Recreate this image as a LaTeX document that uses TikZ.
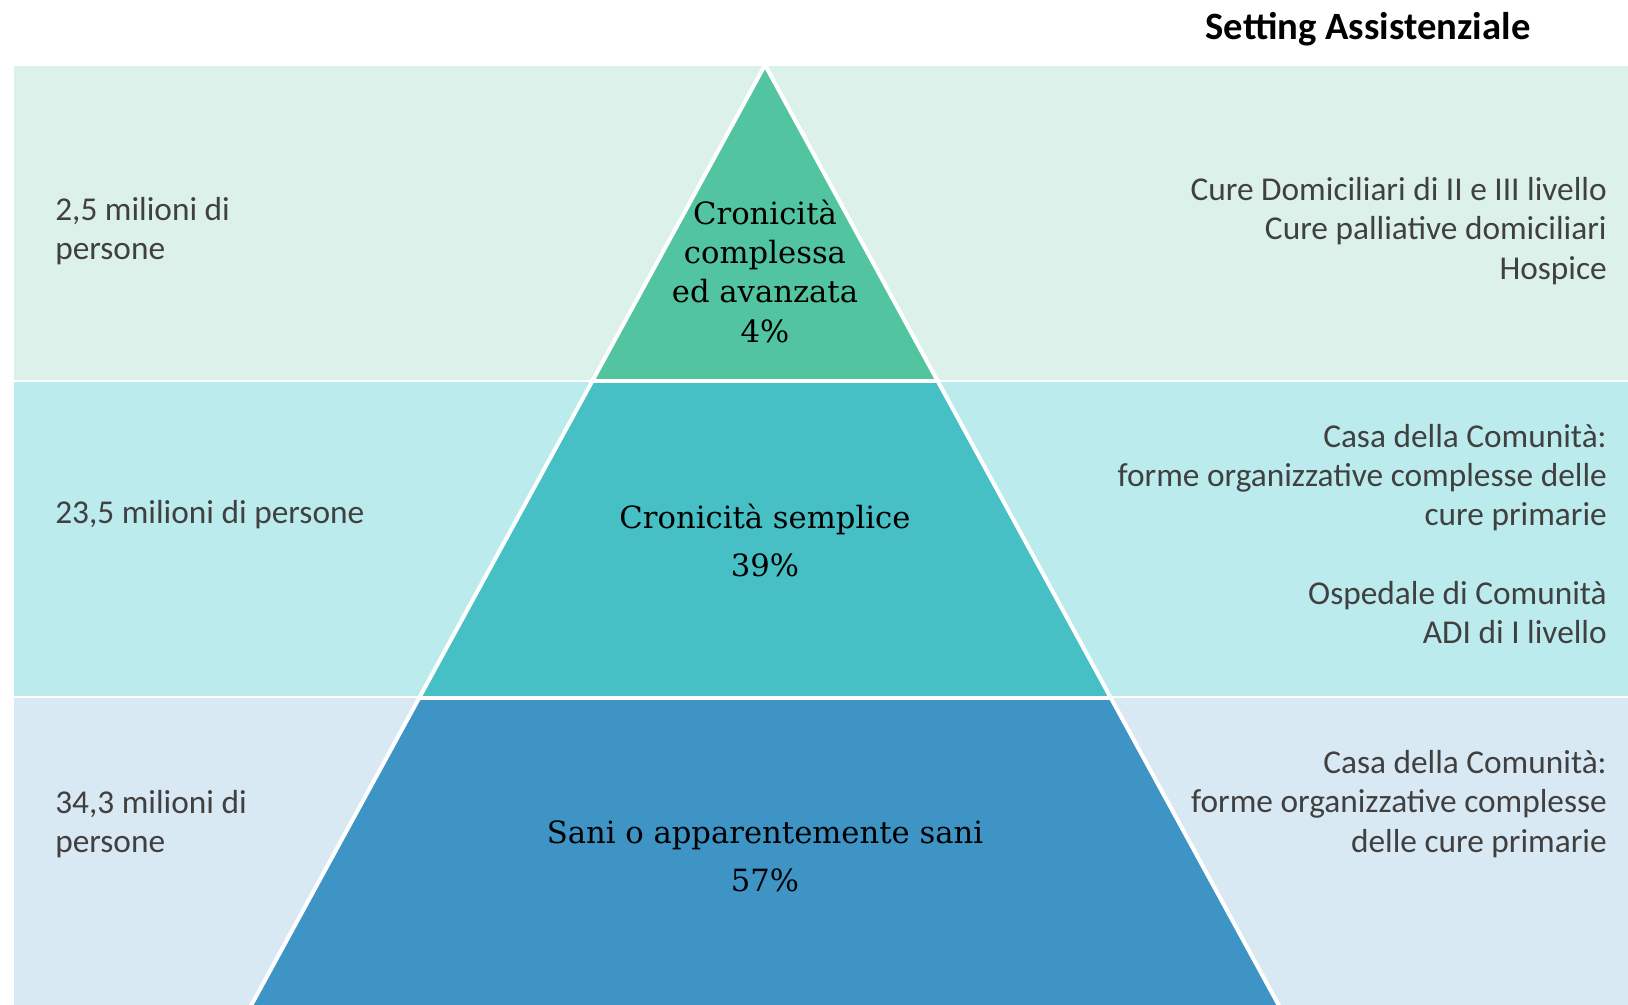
\documentclass[tikz,border=0pt]{standalone}
\usepackage{fontspec}
\newfontfamily\calfont{Carlito}
\newfontfamily\pyrfont{DejaVu Serif}
\definecolor{bandA}{HTML}{DCF1EA}
\definecolor{bandB}{HTML}{BBEBED}
\definecolor{bandC}{HTML}{D9E9F3}
\definecolor{triA}{HTML}{52C4A0}
\definecolor{triB}{HTML}{47C0C5}
\definecolor{triC}{HTML}{3D94C5}
\definecolor{txtgrey}{HTML}{404040}
\tikzset{
  sidetext/.style={text=txtgrey, font=\calfont\fontsize{25}{29.5}\selectfont, inner sep=0pt},
  lefttext/.style={sidetext, anchor=west, align=left},
  righttext/.style={sidetext, anchor=east, align=right},
  pyrtext/.style={text=black, font=\pyrfont\fontsize{23}{29.5}\selectfont, align=center, inner sep=0pt},
}
\begin{document}
\begin{tikzpicture}[x=0.75pt,y=-0.75pt]
\useasboundingbox (0,0) rectangle (1628,1005);
% background bands
\fill[bandA] (14,66) rectangle (1628,381);
\fill[bandB] (14,381) rectangle (1628,697);
\fill[bandC] (14,697) rectangle (1628,1005);
\draw[white, line width=1.8pt] (14,381) -- (1628,381);
\draw[white, line width=1.8pt] (14,697) -- (1628,697);
% pyramid
\fill[triA] (765,67) -- (937,381) -- (593,381) -- cycle;
\fill[triB] (593,381) -- (937,381) -- (1110,697) -- (420,697) -- cycle;
\fill[triC] (420,697) -- (1110,697) -- (1283,1013) -- (247,1013) -- cycle;
\draw[white, line width=3pt] (765,65) -- (247,1013);
\draw[white, line width=3pt] (765,65) -- (1283,1013);
\draw[white, line width=3.6pt] (590,381) -- (940,381);
\draw[white, line width=3.6pt] (417,698) -- (1113,698);
% title
\node[font=\calfont\bfseries\fontsize{29}{34}\selectfont, text=black, inner sep=0pt] (title) at (1368,29) {Setting Assistenziale};
% left texts
\node[lefttext] (l1) at (55,231) {2,5 milioni di\\persone};
\node[lefttext] (l2) at (55,515) {23,5 milioni di persone};
\node[lefttext] (l3) at (55,824) {34,3 milioni di\\persone};
% right texts
\node[righttext] (r1) at (1607,231) {Cure Domiciliari di II e III livello\\Cure palliative domiciliari\\Hospice};
\node[righttext] (r2) at (1607,534) {Casa della Comunità:\\forme organizzative complesse delle\\cure primarie\\[29.5pt]Ospedale di Comunità\\ADI di I livello};
\node[righttext] (r3) at (1607,804) {Casa della Comunità:\\forme organizzative complesse\\delle cure primarie};
% pyramid texts
\node[pyrtext] (p1) at (765,271) {Cronicità\\complessa\\ed avanzata\\4\%};
\node[pyrtext, font=\pyrfont\fontsize{23}{36}\selectfont] (p2) at (765,540) {Cronicità semplice\\39\%};
\node[pyrtext, font=\pyrfont\fontsize{23}{36}\selectfont] (p3) at (765,856) {Sani o apparentemente sani\\57\%};
\end{tikzpicture}
\end{document}
